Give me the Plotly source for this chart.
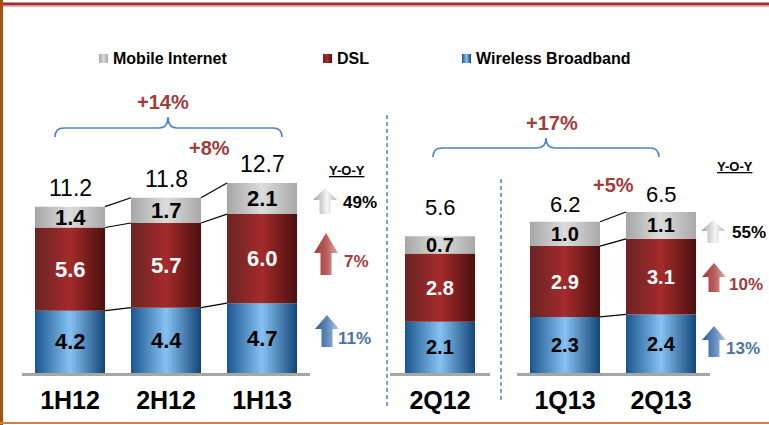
import plotly.graph_objects as go

W, H = 769, 425

# half-year revenue by segment
periods_half = ['1H12', '2H12', '1H13']
wireless_half = [4.2, 4.4, 4.7]
dsl_half = [5.6, 5.7, 6.0]
mobile_half = [1.4, 1.7, 2.1]
total_half = [11.2, 11.8, 12.7]

# quarterly revenue by segment
periods_q = ['2Q12', '1Q13', '2Q13']
wireless_q = [2.1, 2.3, 2.4]
dsl_q = [2.8, 2.9, 3.1]
mobile_q = [0.7, 1.0, 1.1]
total_q = [5.6, 6.2, 6.5]

series_names = ['Wireless Broadband', 'DSL', 'Mobile Internet']
yoy_half = ['11%', '7%', '49%']
yoy_q = ['13%', '10%', '55%']
growth_half = ['+14%', '+8%']
growth_q = ['+17%', '+5%']

FONT = 'Liberation Sans, Arial, sans-serif'
RED_TXT = '#a33b3b'
BLUE_TXT = '#4a72a8'
BRACE = '#4f81bd'

bar_grad = {
    'Wireless Broadband': [[0, '#1b558e'], [0.5, '#86c1f2'], [1, '#134678']],
    'DSL': [[0, '#6a2424'], [0.5, '#a52b2b'], [1, '#4a1010']],
    'Mobile Internet': [[0, '#a6a6a6'], [0.5, '#dcdcdc'], [1, '#a8a8a8']],
}
label_col = {'Wireless Broadband': 'black', 'DSL': 'white', 'Mobile Internet': 'black'}
arrow_grad = {
    'Wireless Broadband': [[0, '#2f5f95'], [0.5, '#5f88bb'], [1, '#b3c8e3']],
    'DSL': [[0, '#a33a3a'], [0.5, '#b85a5a'], [1, '#deaaaa']],
    'Mobile Internet': [[0, '#a0a0a0'], [0.6, '#f6f6f6'], [1, '#b0b0b0']],
}

BAR_W = 0.73
PX_UNIT = 96.0
BASE = 373
TOP = 10
SCALE_H = 14.85
SCALE_Q = 24.4


def px(x):
    return x / W


def py(y):
    return 1 - y / H


fig = go.Figure()
annotations = []


def note(x, y, text, size, color, xanchor='center'):
    # paper-positioned text given in pixels from the top-left corner
    annotations.append(dict(x=px(x), y=py(y), xref='paper', yref='paper', text=text,
                            showarrow=False, xanchor=xanchor, yanchor='middle',
                            font=dict(size=size, color=color, family=FONT)))


def add_stack(xa, ya, positions, layers, totals, seg_size, tot_size, tot_shift, connect):
    bottoms = [0.0] * len(positions)
    levels = []
    for name, vals in layers:
        tops = [b + v for b, v in zip(bottoms, vals)]
        for p, b, t, v in zip(positions, bottoms, tops, vals):
            fig.add_trace(go.Scatter(
                x=[p - BAR_W / 2, p + BAR_W / 2, p + BAR_W / 2, p - BAR_W / 2, p - BAR_W / 2],
                y=[b, b, t, t, b],
                xaxis=xa, yaxis=ya, mode='lines', fill='toself',
                fillgradient=dict(type='horizontal', colorscale=bar_grad[name]),
                line=dict(width=0), hoverinfo='skip', showlegend=False))
            annotations.append(dict(
                x=p, y=(b + t) / 2, xref=xa, yref=ya, text='<b>%.1f</b>' % v,
                showarrow=False, xanchor='center', yanchor='middle',
                font=dict(size=seg_size, color=label_col[name], family=FONT)))
        levels.append(tops)
        bottoms = tops
    for p, t, tot in zip(positions, bottoms, totals):
        annotations.append(dict(
            x=p, y=t, xref=xa, yref=ya, text='%.1f' % tot, showarrow=False,
            xanchor='center', yanchor='bottom', yshift=tot_shift,
            font=dict(size=tot_size, color='black', family=FONT)))
    if connect:
        for lv in levels:
            for i in range(len(positions) - 1):
                fig.add_trace(go.Scatter(
                    x=[positions[i] + BAR_W / 2, positions[i + 1] - BAR_W / 2],
                    y=[lv[i], lv[i + 1]], xaxis=xa, yaxis=ya, mode='lines',
                    line=dict(color='black', width=1.2), hoverinfo='skip', showlegend=False))


add_stack('x', 'y', [0, 1, 2],
          [('Wireless Broadband', wireless_half), ('DSL', dsl_half), ('Mobile Internet', mobile_half)],
          total_half, 22, 23, 4, True)
add_stack('x2', 'y2', [0],
          [('Wireless Broadband', wireless_q[:1]), ('DSL', dsl_q[:1]), ('Mobile Internet', mobile_q[:1])],
          total_q[:1], 20, 22, 14, False)
add_stack('x3', 'y3', [0, 1],
          [('Wireless Broadband', wireless_q[1:]), ('DSL', dsl_q[1:]), ('Mobile Internet', mobile_q[1:])],
          total_q[1:], 20, 22, 3, True)


# decorations on a pixel overlay axis
def arrow(cx, top, bottom, head, name):
    hw, sw = 12, 5.5
    xs = [cx - sw, cx - sw, cx - hw, cx, cx + hw, cx + sw, cx + sw, cx - sw]
    ys = [bottom, top + head, top + head, top, top + head, top + head, bottom, bottom]
    fig.add_trace(go.Scatter(
        x=xs, y=ys, xaxis='x4', yaxis='y4', mode='lines', fill='toself',
        fillgradient=dict(type='horizontal', colorscale=arrow_grad[name]),
        line=dict(width=0), hoverinfo='skip', showlegend=False))


arrow(325, 188, 214, 12, 'Mobile Internet')
arrow(326, 233, 275, 20, 'DSL')
arrow(327, 315, 347, 14, 'Wireless Broadband')
arrow(713, 220, 243, 11, 'Mobile Internet')
arrow(714, 263, 292, 14, 'DSL')
arrow(714, 326, 357, 14, 'Wireless Broadband')

yoy_pos_half = [(336, 338), (342, 261), (341, 202)]
yoy_pos_q = [(724, 348), (727, 284), (730, 232)]
yoy_cols = [BLUE_TXT, RED_TXT, 'black']
for labels, pos in [(yoy_half, yoy_pos_half), (yoy_q, yoy_pos_q)]:
    for t, (x, y), c in zip(labels, pos, yoy_cols):
        note(x, y, '<b>%s</b>' % t, 17, c, xanchor='left')

for x, y in [(347, 170), (735, 166)]:
    note(x, y, '<b><u>Y-O-Y</u></b>', 13, 'black')

# growth labels
for t, (x, y) in zip(growth_half + growth_q, [(163, 102), (209, 148), (552, 123), (613, 185)]):
    note(x, y, '<b>%s</b>' % t, 20, RED_TXT)

# legend
leg = [('Mobile Internet', 99), ('DSL', 323), ('Wireless Broadband', 462)]
for name, x in leg:
    fig.add_trace(go.Scatter(
        x=[x, x + 9, x + 9, x, x], y=[54, 54, 63, 63, 54], xaxis='x4', yaxis='y4',
        mode='lines', fill='toself', fillgradient=dict(type='horizontal', colorscale=bar_grad[name]),
        line=dict(width=0), hoverinfo='skip', showlegend=False))
    note(x + 12, 58.5, '<b>%s</b>' % name, 16, 'black', xanchor='left')


def brace(x0, x1, xm, yb, yh, yp):
    r = 9
    return ('M%f,%f Q%f,%f %f,%f L%f,%f Q%f,%f %f,%f Q%f,%f %f,%f L%f,%f Q%f,%f %f,%f' % (
        x0, yb, x0, yh, x0 + r, yh, xm - r, yh, xm, yh, xm, yp, xm, yh, xm + r, yh,
        x1 - r, yh, x1, yh, x1, yb))


shapes = [
    dict(type='path', xref='x4', yref='y4', path=brace(55, 282, 168, 137, 128, 117),
         line=dict(color=BRACE, width=1.6)),
    dict(type='path', xref='x4', yref='y4', path=brace(433, 659, 546, 157, 148, 138),
         line=dict(color=BRACE, width=1.6)),
    dict(type='line', xref='x4', yref='y4', x0=387, x1=387, y0=115, y1=408,
         line=dict(color=BRACE, width=1.5, dash='4px,3px')),
    dict(type='line', xref='x4', yref='y4', x0=501, x1=501, y0=179, y1=403,
         line=dict(color=BRACE, width=1.5, dash='4px,3px')),
    # frame
    dict(type='line', xref='paper', yref='paper', x0=0, x1=1, y0=py(4), y1=py(4),
         line=dict(color='#9e2b2f', width=3)),
    dict(type='line', xref='paper', yref='paper', x0=0, x1=1, y0=py(6.5), y1=py(6.5),
         line=dict(color='#e9b3b3', width=1)),
    dict(type='line', xref='paper', yref='paper', x0=px(1.5), x1=px(1.5), y0=0, y1=1,
         line=dict(color='#a8520f', width=3)),
    dict(type='line', xref='paper', yref='paper', x0=0, x1=1, y0=py(423), y1=py(423),
         line=dict(color='#c8824a', width=2)),
]

xcommon = dict(showgrid=False, zeroline=False, showline=True, linecolor='#a6a6a6', linewidth=2.5,
               ticks='', ticklabelstandoff=3,
               tickfont=dict(size=25, color='black', family=FONT), fixedrange=True)
ycommon = dict(visible=False, showgrid=False, zeroline=False, fixedrange=True,
               domain=[py(BASE), py(TOP)])

fig.update_layout(
    width=W, height=H,
    margin=dict(l=0, r=0, t=0, b=0),
    paper_bgcolor='white', plot_bgcolor='rgba(0,0,0,0)',
    showlegend=False,
    xaxis=dict(xcommon, domain=[px(22), px(310)], range=[-0.5, 2.5], anchor='y',
               tickvals=[0, 1, 2], ticktext=['<b>%s</b>' % p for p in periods_half]),
    yaxis=dict(ycommon, range=[0, (BASE - TOP) / SCALE_H], anchor='x'),
    xaxis2=dict(xcommon, domain=[px(390), px(490)], range=[-50 / PX_UNIT, 50 / PX_UNIT], anchor='y2',
                tickvals=[0], ticktext=['<b>%s</b>' % periods_q[0]]),
    yaxis2=dict(ycommon, range=[0, (BASE - TOP) / SCALE_Q], anchor='x2'),
    xaxis3=dict(xcommon, domain=[px(517), px(710)], range=[-48 / PX_UNIT, 1 + 49 / PX_UNIT], anchor='y3',
                tickvals=[0, 1], ticktext=['<b>%s</b>' % p for p in periods_q[1:]]),
    yaxis3=dict(ycommon, range=[0, (BASE - TOP) / SCALE_Q], anchor='x3'),
    xaxis4=dict(domain=[0, 1], range=[0, W], visible=False, anchor='y4', fixedrange=True),
    yaxis4=dict(domain=[0, 1], range=[H, 0], visible=False, anchor='x4', fixedrange=True),
    annotations=annotations,
    shapes=shapes,
)

# the page's default body margin would shift the figure by 8px
fig.write_html('out.html', config={'displayModeBar': False},
               post_script="document.body.style.margin='0';document.body.style.overflow='hidden';")
